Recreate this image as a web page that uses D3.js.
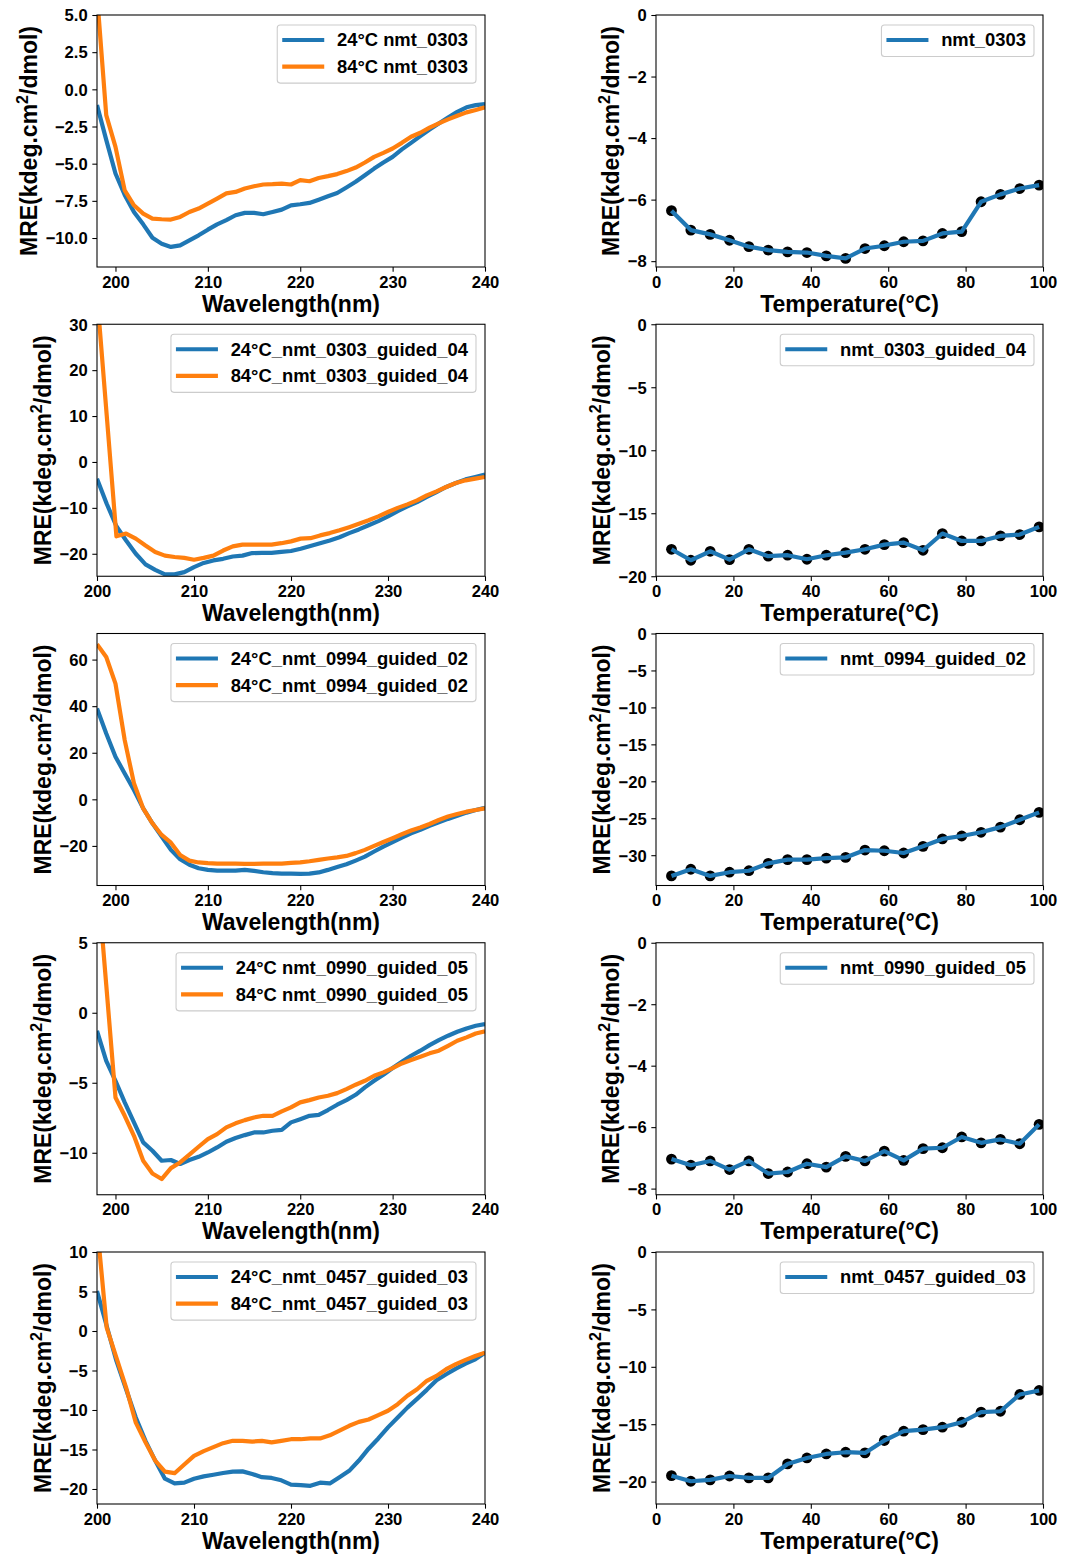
<!DOCTYPE html>
<html><head><meta charset="utf-8">
<script src="https://cdn.jsdelivr.net/npm/d3@7"></script>
<style>
body{margin:0;background:#fff}
svg{display:block}
text{font-family:"Liberation Sans",Arial,sans-serif;font-weight:bold;fill:#000}
</style>
</head><body>
<svg id="chart" width="1072" height="1555"></svg>
<script>
// ---------- data ----------
const wavelengthA = [198,199,200,201,202,203,204,205,206,207,208,209,210,211,212,213,214,215,216,217,218,219,220,221,222,223,224,225,226,227,228,229,230,231,232,233,234,235,236,237,238,239,240];
const wavelengthB = [200,201,202,203,204,205,206,207,208,209,210,211,212,213,214,215,216,217,218,219,220,221,222,223,224,225,226,227,228,229,230,231,232,233,234,235,236,237,238,239,240];
const temperatures = [4,9,14,19,24,29,34,39,44,49,54,59,64,69,74,79,84,89,94,99];

// row 1: nmt_0303 (wavelengthA)
const mre0303_24 = [-1.06,-3.4,-5.66,-7.1,-8.25,-9.08,-9.98,-10.38,-10.6,-10.5,-10.16,-9.82,-9.44,-9.08,-8.8,-8.47,-8.31,-8.31,-8.4,-8.25,-8.09,-7.8,-7.73,-7.64,-7.42,-7.19,-6.97,-6.6,-6.22,-5.78,-5.33,-4.92,-4.54,-4.04,-3.6,-3.15,-2.7,-2.29,-1.89,-1.51,-1.21,-1.06,-0.99];
const mre0303_84 = [6.4,-1.73,-3.87,-6.8,-7.8,-8.36,-8.7,-8.74,-8.76,-8.58,-8.25,-8.02,-7.69,-7.35,-7.0,-6.9,-6.67,-6.52,-6.4,-6.38,-6.34,-6.4,-6.11,-6.18,-5.96,-5.84,-5.7,-5.5,-5.26,-4.92,-4.54,-4.27,-3.98,-3.6,-3.19,-2.92,-2.58,-2.29,-2.02,-1.78,-1.55,-1.39,-1.21];
const melt0303 = [-6.36,-6.99,-7.13,-7.32,-7.53,-7.64,-7.70,-7.72,-7.83,-7.91,-7.59,-7.50,-7.37,-7.34,-7.10,-7.04,-6.07,-5.83,-5.64,-5.53];

// row 2: nmt_0303_guided_04 (wavelengthB)
const mre0303g04_24 = [-3.64,-9.1,-14.0,-17.1,-20.0,-22.3,-23.5,-24.5,-24.5,-24.0,-22.9,-22.0,-21.45,-21.1,-20.6,-20.4,-19.85,-19.8,-19.8,-19.6,-19.4,-18.9,-18.3,-17.7,-17.1,-16.4,-15.5,-14.7,-13.8,-12.9,-11.85,-10.7,-9.67,-8.73,-7.6,-6.55,-5.45,-4.6,-3.8,-3.27,-2.76];
const mre0303g04_84 = [36.6,10.2,-16.2,-15.6,-16.7,-18.2,-19.6,-20.4,-20.7,-20.9,-21.3,-20.9,-20.4,-19.3,-18.4,-18.0,-18.0,-18.0,-18.0,-17.7,-17.3,-16.7,-16.6,-16.0,-15.5,-14.9,-14.2,-13.45,-12.7,-11.85,-10.9,-10.0,-9.24,-8.36,-7.27,-6.4,-5.45,-4.6,-4.0,-3.64,-3.27];
const melt0303g04 = [-17.86,-18.73,-18.02,-18.68,-17.86,-18.41,-18.33,-18.65,-18.33,-18.12,-17.86,-17.49,-17.33,-17.94,-16.61,-17.20,-17.20,-16.80,-16.69,-16.08];

// row 3: nmt_0994_guided_02 (wavelengthA)
const mre0994g02_24 = [39,28.3,18.3,11.1,4.0,-3.9,-10.3,-16.0,-21.7,-25.7,-28.1,-29.6,-30.3,-30.6,-30.6,-30.6,-30.3,-30.7,-31.3,-31.7,-31.9,-31.9,-32.0,-31.9,-31.4,-30.3,-29.1,-27.9,-26.3,-24.6,-22.4,-20.3,-18.4,-16.4,-14.6,-13.1,-11.4,-9.9,-8.4,-7.1,-5.7,-4.6,-3.6];
const mre0994g02_84 = [66.6,61.1,49.7,25.4,6.9,-3.9,-10.3,-15.3,-18.6,-23.9,-26.3,-27.1,-27.4,-27.6,-27.6,-27.6,-27.7,-27.7,-27.6,-27.6,-27.6,-27.3,-27.1,-26.6,-26.0,-25.4,-24.9,-24.3,-23.1,-21.7,-20.0,-18.3,-16.7,-15.0,-13.4,-12.1,-10.6,-8.9,-7.4,-6.3,-5.3,-4.6,-3.9];
const melt0994g02 = [-32.8,-31.9,-32.8,-32.3,-32.1,-31.1,-30.6,-30.6,-30.4,-30.3,-29.3,-29.4,-29.7,-28.8,-27.8,-27.4,-26.9,-26.2,-25.2,-24.2];

// row 4: nmt_0990_guided_05 (wavelengthA)
const mre0990g05_24 = [-1.29,-3.43,-4.86,-6.4,-7.83,-9.26,-9.86,-10.57,-10.52,-10.8,-10.52,-10.29,-9.98,-9.62,-9.21,-8.95,-8.74,-8.55,-8.55,-8.43,-8.36,-7.83,-7.6,-7.36,-7.29,-6.95,-6.57,-6.24,-5.86,-5.33,-4.86,-4.43,-3.95,-3.5,-3.07,-2.71,-2.31,-1.95,-1.64,-1.36,-1.12,-0.93,-0.81];
const mre0990g05_84 = [10.0,2.0,-6.05,-7.36,-8.79,-10.57,-11.48,-11.88,-11.1,-10.69,-10.14,-9.57,-9.02,-8.67,-8.19,-7.9,-7.67,-7.48,-7.36,-7.36,-7.05,-6.76,-6.4,-6.24,-6.05,-5.93,-5.74,-5.45,-5.14,-4.86,-4.5,-4.26,-3.95,-3.62,-3.38,-3.14,-2.9,-2.71,-2.36,-2.0,-1.76,-1.48,-1.33];
const melt0990g05 = [-7.04,-7.24,-7.10,-7.38,-7.10,-7.51,-7.46,-7.19,-7.30,-6.95,-7.10,-6.78,-7.08,-6.70,-6.67,-6.32,-6.51,-6.40,-6.54,-5.91];

// row 5: nmt_0457_guided_03 (wavelengthB)
const mre0457g03_24 = [5.05,0.63,-3.79,-7.37,-10.95,-13.9,-16.4,-18.7,-19.3,-19.2,-18.7,-18.4,-18.2,-17.98,-17.8,-17.77,-18.1,-18.5,-18.6,-18.9,-19.45,-19.5,-19.6,-19.2,-19.3,-18.5,-17.7,-16.4,-14.9,-13.6,-12.2,-10.95,-9.7,-8.6,-7.45,-6.23,-5.47,-4.76,-4.13,-3.58,-2.74];
const mre0457g03_84 = [13.5,0.42,-3.37,-7.16,-11.6,-14.1,-16.4,-17.8,-18.0,-16.9,-15.8,-15.2,-14.7,-14.2,-13.9,-13.9,-14.0,-13.9,-14.1,-13.9,-13.7,-13.7,-13.6,-13.6,-13.2,-12.6,-12.0,-11.5,-11.2,-10.65,-10.1,-9.26,-8.2,-7.37,-6.3,-5.68,-4.84,-4.2,-3.66,-3.16,-2.74];
const melt0457g03 = [-19.48,-19.97,-19.85,-19.51,-19.68,-19.68,-18.46,-17.94,-17.59,-17.44,-17.50,-16.42,-15.61,-15.47,-15.26,-14.83,-13.95,-13.87,-12.41,-12.06];

// tick labels
const wavelengthTicks = [200,210,220,230,240];
const temperatureTicks = [0,20,40,60,80,100];
const yTicksSpec1 = [-10,-7.5,-5,-2.5,0,2.5,5];
const yTicksSpec2 = [-20,-10,0,10,20,30];
const yTicksSpec3 = [-20,0,20,40,60];
const yTicksSpec4 = [-10,-5,0,5];
const yTicksSpec5 = [-20,-15,-10,-5,0,5,10];
const yTicksMelt1 = [-8,-6,-4,-2,0];
const yTicksMelt2 = [-20,-15,-10,-5,0];
const yTicksMelt3 = [-30,-25,-20,-15,-10,-5,0];
const yTicksMelt4 = [-8,-6,-4,-2,0];
const yTicksMelt5 = [-20,-15,-10,-5,0];

// legend labels
const specLabels = [
  ["24°C nmt_0303","84°C nmt_0303"],
  ["24°C_nmt_0303_guided_04","84°C_nmt_0303_guided_04"],
  ["24°C_nmt_0994_guided_02","84°C_nmt_0994_guided_02"],
  ["24°C nmt_0990_guided_05","84°C nmt_0990_guided_05"],
  ["24°C_nmt_0457_guided_03","84°C_nmt_0457_guided_03"]
];
const meltLabels = ["nmt_0303","nmt_0303_guided_04","nmt_0994_guided_02","nmt_0990_guided_05","nmt_0457_guided_03"];

// ---------- layout / options ----------
const BLUE = "#1f77b4", ORANGE = "#ff7f0e";
const specRows = [
  {wl: wavelengthA, a: mre0303_24, b: mre0303_84, xd:[198,240], yd:[-11.95,5], yt: yTicksSpec1, fmt: d3.format(".1f")},
  {wl: wavelengthB, a: mre0303g04_24, b: mre0303g04_84, xd:[200,240], yd:[-24.9,30], yt: yTicksSpec2, fmt: d3.format("d")},
  {wl: wavelengthA, a: mre0994g02_24, b: mre0994g02_84, xd:[198,240], yd:[-37,71.2], yt: yTicksSpec3, fmt: d3.format("d")},
  {wl: wavelengthA, a: mre0990g05_24, b: mre0990g05_84, xd:[198,240], yd:[-13,5], yt: yTicksSpec4, fmt: d3.format("d")},
  {wl: wavelengthB, a: mre0457g03_24, b: mre0457g03_84, xd:[200,240], yd:[-21.9,10], yt: yTicksSpec5, fmt: d3.format("d")}
];
const meltRows = [
  {v: melt0303, yd:[-8.19,0], yt: yTicksMelt1},
  {v: melt0303g04, yd:[-20,0], yt: yTicksMelt2},
  {v: melt0994g02, yd:[-34.1,0], yt: yTicksMelt3},
  {v: melt0990g05, yd:[-8.2,0], yt: yTicksMelt4},
  {v: melt0457g03, yd:[-21.95,0], yt: yTicksMelt5}
];

const svg = d3.select("#chart");
const H = 252, TOP0 = 15, ROWSTEP = 309.25;
const LX = 97, LW = 388, RX = 656, RW = 387;
const TICK = 4.67, PAD = 4.67;
const TICKFONT = 16.6, LABELFONT = 23, LEGFONT = 18.4;

function axesFrame(g, x, y, xTicks, yTicks, xFmt, yFmt, w, h, xlabel) {
  const ax = g.append("g").attr("transform", `translate(0,${h})`)
    .call(d3.axisBottom(x).tickValues(xTicks).tickFormat(xFmt).tickSize(TICK).tickPadding(PAD));
  const ay = g.append("g")
    .call(d3.axisLeft(y).tickValues(yTicks).tickFormat(yFmt).tickSize(TICK).tickPadding(PAD));
  [ax, ay].forEach(a => {
    a.select(".domain").remove();
    a.selectAll("line").attr("stroke", "#000").attr("stroke-width", 1.07);
    a.selectAll("text").attr("font-size", TICKFONT).attr("font-family", null).attr("fill", "#000");
  });
  ax.selectAll("text").attr("dy", "0.68em");
  ay.selectAll("text").attr("dy", "0.35em");
  g.append("rect").attr("width", w).attr("height", h)
    .attr("fill", "none").attr("stroke", "#000").attr("stroke-width", 1.07);
  g.append("text").attr("x", w/2).attr("y", h + 44.5).attr("text-anchor", "middle")
    .attr("font-size", LABELFONT).text(xlabel);
  let minLeft = 0;
  ay.selectAll(".tick text").each(function(){
    const len = this.getComputedTextLength();
    minLeft = Math.min(minLeft, -(TICK + PAD) - len);
  });
  const lx = minLeft - 9;
  const t = g.append("text").attr("transform", `translate(${lx},${h/2}) rotate(-90)`)
    .attr("text-anchor", "middle").attr("font-size", LABELFONT);
  t.append("tspan").text("MRE(kdeg.cm");
  t.append("tspan").attr("font-size", 16).attr("dy", -9).text("2");
  t.append("tspan").attr("dy", 9).text("/dmol)");
}

function legend(g, w, entries) {
  const lg = g.append("g");
  const box = lg.append("rect");
  const texts = entries.map((e, i) => lg.append("text").attr("font-size", LEGFONT).attr("dy", "0.35em").text(e.label));
  const tw = d3.max(texts, t => t.node().getComputedTextLength());
  const bw = 5 + 42 + 12.7 + tw + 8;
  const bh = 31.5 + (entries.length - 1) * 26.6;
  const left = w - 9 - bw, top = 10;
  box.attr("x", left).attr("y", top).attr("width", bw).attr("height", bh).attr("rx", 3)
    .attr("fill", "#fff").attr("fill-opacity", 0.8).attr("stroke", "#cccccc").attr("stroke-width", 1.07);
  entries.forEach((e, i) => {
    const cy = top + 15 + i * 26.6;
    lg.insert("line", "text").attr("x1", left + 5).attr("x2", left + 47).attr("y1", cy).attr("y2", cy)
      .attr("stroke", e.color).attr("stroke-width", 4.2);
    texts[i].attr("x", left + 5 + 42 + 12.7).attr("y", cy);
  });
}

const defs = svg.append("defs");

specRows.forEach((r, i) => {
  const top = TOP0 + i * ROWSTEP;
  const g = svg.append("g").attr("transform", `translate(${LX},${top})`);
  const x = d3.scaleLinear().domain(r.xd).range([0, LW]);
  const y = d3.scaleLinear().domain(r.yd).range([H, 0]);
  const cid = "clipL" + i;
  defs.append("clipPath").attr("id", cid).append("rect").attr("width", LW).attr("height", H);
  const line = d3.line().x((d, j) => x(r.wl[j])).y(d => y(d));
  const pg = g.append("g").attr("clip-path", `url(#${cid})`);
  pg.append("path").datum(r.a).attr("d", line).attr("fill", "none").attr("stroke", BLUE)
    .attr("stroke-width", 4.2).attr("stroke-linejoin", "round");
  pg.append("path").datum(r.b).attr("d", line).attr("fill", "none").attr("stroke", ORANGE)
    .attr("stroke-width", 4.2).attr("stroke-linejoin", "round");
  axesFrame(g, x, y, wavelengthTicks, r.yt, d3.format("d"), r.fmt, LW, H, "Wavelength(nm)");
  legend(g, LW, [{label: specLabels[i][0], color: BLUE}, {label: specLabels[i][1], color: ORANGE}]);
});

meltRows.forEach((r, i) => {
  const top = TOP0 + i * ROWSTEP;
  const g = svg.append("g").attr("transform", `translate(${RX},${top})`);
  const x = d3.scaleLinear().domain([0, 100]).range([0, RW]);
  const y = d3.scaleLinear().domain(r.yd).range([H, 0]);
  const cid = "clipR" + i;
  defs.append("clipPath").attr("id", cid).append("rect").attr("width", RW).attr("height", H);
  const pg = g.append("g").attr("clip-path", `url(#${cid})`);
  pg.selectAll("circle").data(r.v).join("circle")
    .attr("cx", (d, j) => x(temperatures[j])).attr("cy", d => y(d)).attr("r", 5.4).attr("fill", "#000");
  const line = d3.line().x((d, j) => x(temperatures[j])).y(d => y(d));
  pg.append("path").datum(r.v).attr("d", line).attr("fill", "none").attr("stroke", BLUE)
    .attr("stroke-width", 4.2).attr("stroke-linejoin", "round");
  axesFrame(g, x, y, temperatureTicks, r.yt, d3.format("d"), d3.format("d"), RW, H, "Temperature(°C)");
  legend(g, RW, [{label: meltLabels[i], color: BLUE}]);
});
</script>
</body></html>
